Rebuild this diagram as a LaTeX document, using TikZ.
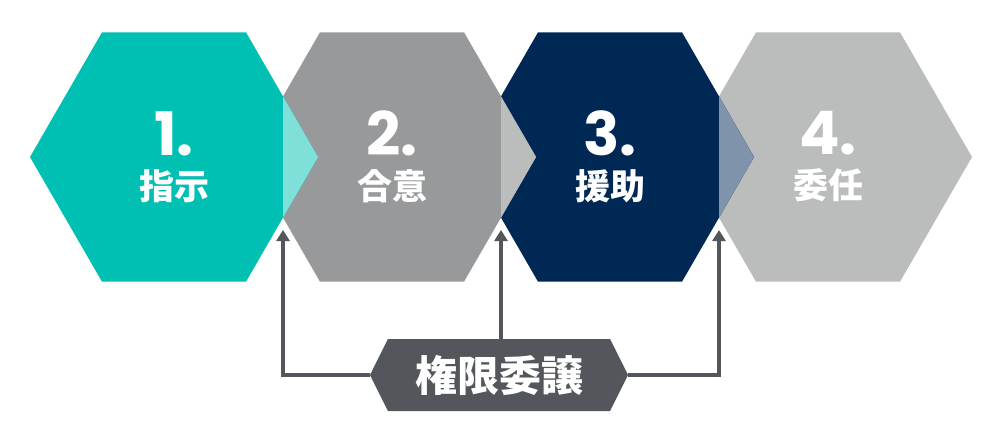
\documentclass[tikz,border=0pt]{standalone}
\usepackage{fontspec}
\usepackage{xcolor}
\usepackage{tikz}
\usetikzlibrary{shapes.geometric, shapes.symbols, arrows.meta, positioning}
\newfontfamily\numfont{Poppins}
\newfontfamily\cjk{Noto Sans CJK JP}
\definecolor{stepteal}{HTML}{00BFB3}
\definecolor{steptealL}{HTML}{7FDFD9}
\definecolor{stepgray}{HTML}{97999B}
\definecolor{stepgrayL}{HTML}{BBBCBC}
\definecolor{stepnavy}{HTML}{002855}
\definecolor{stepnavyL}{HTML}{7F93AA}
\definecolor{delegdark}{HTML}{53565A}
\tikzstyle{hexa} = [regular polygon, regular polygon sides=6, minimum size=288pt, inner sep=0pt, outer sep=0pt, text=white, align=center, font=\cjk\bfseries\fontsize{35}{44}\selectfont]
\tikzstyle{delegbox} = [signal, signal to=west and east, signal pointer angle=127, minimum width=258pt, minimum height=72pt, inner sep=0pt, outer sep=0pt, fill=delegdark, text=white, font=\cjk\bfseries\fontsize{42}{42}\selectfont]
\tikzstyle{arrow} = [line width=4pt, draw=delegdark, -{Triangle[width=13pt,length=11pt]}]
\newcommand{\stepnum}[1]{{\numfont\bfseries\fontsize{60}{60}\selectfont #1}}

\begin{document}
\begin{tikzpicture}[x=1pt, y=-1pt, node distance=218pt, on grid]
    \useasboundingbox (0,0) rectangle (1000,441);
    % hexagons, right to left so the left one sits on top
    \node[hexa, fill=stepgrayL] (h4) at (828,157) {\stepnum{4.}\\委任};
    \node[hexa, fill=stepnavy, left=of h4] (h3) {\stepnum{3.}\\援助};
    \node[hexa, fill=stepgray, left=of h3] (h2) {\stepnum{2.}\\合意};
    \node[hexa, fill=stepteal, left=of h2] (h1) {\stepnum{1.}\\指示};

    % overlaps
    \fill[steptealL] (h1.east) -- (283,96.4) -- (283,217.6) -- cycle;
    \fill[stepgrayL] (h2.east) -- (501,96.4) -- (501,217.6) -- cycle;
    \fill[stepnavyL] (h3.east) -- (719,96.4) -- (719,217.6) -- cycle;

    \node[delegbox] (deleg) at (499,375) {権限委譲};

    \coordinate (t1) at (283,230);
    \coordinate (t2) at (501,230);
    \coordinate (t3) at (719,230);

    \draw[arrow] (deleg.west) -| (t1);
    \draw[arrow] (deleg.north -| t2) -- (t2);
    \draw[arrow] (deleg.east) -| (t3);
\end{tikzpicture}
\end{document}
